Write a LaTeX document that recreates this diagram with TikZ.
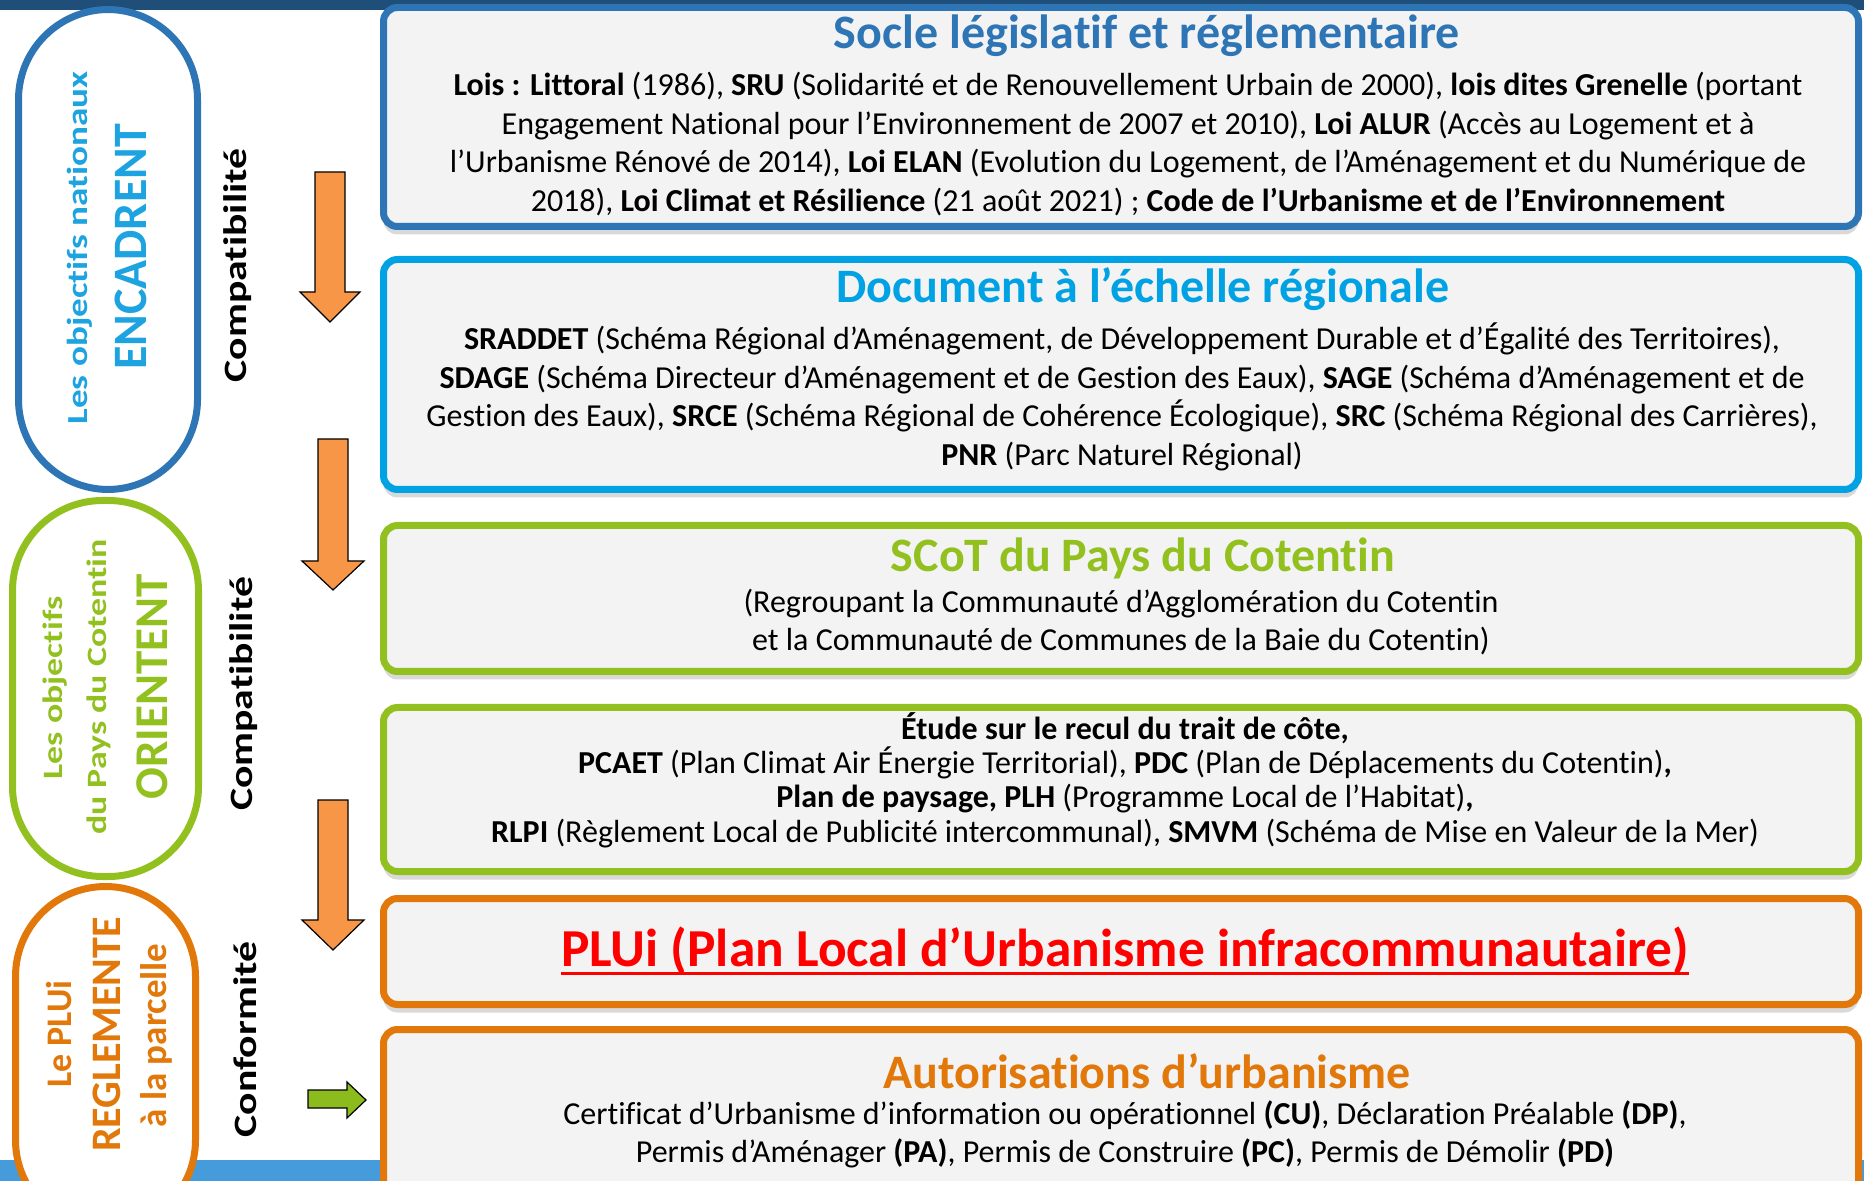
\documentclass[tikz,border=0pt]{standalone}
\usepackage{fontspec}
\setmainfont{Carlito}[Ligatures={NoCommon,NoContextual}]
\newfontfamily\sidefont[FakeStretch=1.28,Ligatures={NoCommon,NoContextual}]{Carlito}
\usetikzlibrary{shadows}
\definecolor{topbar}{RGB}{31,78,121}
\definecolor{botbar}{RGB}{70,156,218}
\definecolor{socleblue}{RGB}{46,117,182}
\definecolor{regblue}{RGB}{0,162,228}
\definecolor{natblue}{RGB}{28,163,224}
\definecolor{scotgreen}{RGB}{146,193,31}
\definecolor{pluorange}{RGB}{226,119,10}
\definecolor{boxgray}{RGB}{243,243,243}
\definecolor{arroworange}{RGB}{247,150,70}
\definecolor{arrowgreen}{RGB}{140,187,30}
\tikzset{
    levelbox/.style={draw=#1, line width=3.5pt, fill=boxgray, rounded corners=7pt,
      drop shadow={shadow xshift=0pt, shadow yshift=-4pt, opacity=0.15, fill=black}},
    pill/.style={draw=#1, line width=3.5pt, fill=white, rounded corners=45pt},
    boxtitle/.style={inner sep=0pt, text=#1, font=\fontsize{24pt}{28pt}\selectfont\bfseries},
    boxtext/.style={inner sep=0pt, align=center, font=\fontsize{16pt}{19.35pt}\selectfont},
    arrowdown/.style={draw=black, line width=0.6pt, fill=arroworange},
    sidelabel/.style={inner sep=0pt, rotate=90, font=\sidefont\bfseries\fontsize{16.3pt}{18pt}\selectfont},
    pilltext/.style={inner sep=0pt, rotate=90, text=#1}}

\begin{document}
\begin{tikzpicture}[x=0.5pt,y=-0.5pt]
\useasboundingbox (0,0) rectangle (1864,1181);
\clip (0,0) rectangle (1864,1181);
\fill[topbar] (0,0) rectangle (1864,10);
\fill[botbar] (0,1160) rectangle (1864,1181);

\draw[pill=socleblue] (18.5,9.5) rectangle (197.5,489.5);
\draw[pill=scotgreen] (12.5,500.5) rectangle (198.5,876.5);
\draw[pill=pluorange] (15.5,886.5) rectangle (195.5,1230);

\draw[levelbox=socleblue] (383.5,7.5) rectangle (1858.5,226.5);
\draw[levelbox=regblue] (383.5,259.5) rectangle (1858.5,489.5);
\draw[levelbox=scotgreen] (383.5,525.5) rectangle (1858.5,671.5);
\draw[levelbox=scotgreen] (383.5,707.5) rectangle (1858.5,871.5);
\draw[levelbox=pluorange] (383.5,898.5) rectangle (1858.5,1004.5);
\draw[levelbox=pluorange] (383.5,1029.5) rectangle (1858.5,1240);

\draw[arrowdown] (315,172) -- (345,172) -- (345,292) -- (360,292) -- (330,322) -- (300,292) -- (315,292) -- cycle;
\draw[arrowdown] (318,439) -- (348,439) -- (348,561) -- (364,561) -- (333,590) -- (302,561) -- (318,561) -- cycle;
\draw[arrowdown] (318,800) -- (348,800) -- (348,920) -- (364,920) -- (333,950) -- (302,920) -- (318,920) -- cycle;
\draw[arrowdown, fill=arrowgreen] (308,1090) -- (347,1090) -- (347,1082) -- (366,1100) -- (347,1118) -- (347,1108) -- (308,1108) -- cycle;

\node[pilltext=natblue, font=\sidefont\bfseries\fontsize{14.5pt}{16pt}\selectfont] (nat1) at (80,248) {Les objectifs nationaux};
\node[pilltext=natblue, font=\bfseries\fontsize{24pt}{26pt}\selectfont] (nat2) at (131,247) {ENCADRENT};
\node[pilltext=scotgreen, font=\sidefont\bfseries\fontsize{14pt}{16pt}\selectfont] (cot1) at (55.5,688) {Les objectifs};
\node[pilltext=scotgreen, font=\sidefont\bfseries\fontsize{14pt}{16pt}\selectfont] (cot2) at (99,687) {du Pays du Cotentin};
\node[pilltext=scotgreen, font=\bfseries\fontsize{23.5pt}{26pt}\selectfont] (cot3) at (152,687) {ORIENTENT};
\node[pilltext=pluorange, font=\bfseries\fontsize{18pt}{20pt}\selectfont] (plu1) at (59.5,1034) {Le PLUi};
\node[pilltext=pluorange, font=\bfseries\fontsize{21pt}{24pt}\selectfont] (plu2) at (107,1034.5) {REGLEMENTE};
\node[pilltext=pluorange, font=\bfseries\fontsize{18.5pt}{20pt}\selectfont] (plu3) at (156.5,1035.5) {à la parcelle};

\node[sidelabel] (cmp1) at (238,265.5) {Compatibilité};
\node[sidelabel] (cmp2) at (244,694) {Compatibilité};
\node[sidelabel] (conf) at (245,1039.5) {Conformité};

\node[boxtitle=socleblue] (t1) at (1147,36) {Socle législatif et réglementaire};
\node[boxtext] (x1) at (1128,144) {\textbf{Lois : Littoral} (1986), \textbf{SRU} (Solidarité et de Renouvellement Urbain de 2000), \textbf{lois dites Grenelle} (portant\\
Engagement National pour l’Environnement de 2007 et 2010), \textbf{Loi ALUR} (Accès au Logement et à\\
l’Urbanisme Rénové de 2014), \textbf{Loi ELAN} (Evolution du Logement, de l’Aménagement et du Numérique de\\
2018), \textbf{Loi Climat et Résilience} (21 août 2021) ; \textbf{Code de l’Urbanisme et de l’Environnement}};

\node[boxtitle=regblue] (t2) at (1143,289) {Document à l’échelle régionale};
\node[boxtext] (x2) at (1122,397) {\textbf{SRADDET} (Schéma Régional d’Aménagement, de Développement Durable et d’Égalité des Territoires),\\
\textbf{SDAGE} (Schéma Directeur d’Aménagement et de Gestion des Eaux), \textbf{SAGE} (Schéma d’Aménagement et de\\
Gestion des Eaux), \textbf{SRCE} (Schéma Régional de Cohérence Écologique), \textbf{SRC} (Schéma Régional des Carrières),\\
\textbf{PNR} (Parc Naturel Régional)};

\node[boxtitle=scotgreen] (t3) at (1143,558) {SCoT du Pays du Cotentin};
\node[boxtext] (x3) at (1121,622) {(Regroupant la Communauté d’Agglomération du Cotentin\\
et la Communauté de Communes de la Baie du Cotentin)};

\node[boxtext, font=\fontsize{16pt}{17.15pt}\selectfont] (x4) at (1125,780) {\textbf{Étude sur le recul du trait de côte,}\\
\textbf{PCAET} (Plan Climat Air Énergie Territorial), \textbf{PDC} (Plan de Déplacements du Cotentin)\textbf{,}\\
\textbf{Plan de paysage, PLH} (Programme Local de l’Habitat)\textbf{,}\\
\textbf{RLPI} (Règlement Local de Publicité intercommunal), \textbf{SMVM} (Schéma de Mise en Valeur de la Mer)};

\node[boxtitle=red, font=\fontsize{26.7pt}{30pt}\selectfont\bfseries] (t5) at (1125,951) {PLUi (Plan Local d’Urbanisme infracommunautaire)};
\draw[red, line width=1.5pt] ([yshift=-3.5pt]t5.base west) -- ([yshift=-3.5pt]t5.base east);

\node[boxtitle=pluorange] (t6) at (1147,1071) {Autorisations d’urbanisme};
\node[boxtext] (x6) at (1125,1134.5) {Certificat d’Urbanisme d’information ou opérationnel \textbf{(CU)}, Déclaration Préalable \textbf{(DP)},\\
Permis d’Aménager \textbf{(PA)}, Permis de Construire \textbf{(PC)}, Permis de Démolir \textbf{(PD)}};
\end{tikzpicture}
\end{document}
